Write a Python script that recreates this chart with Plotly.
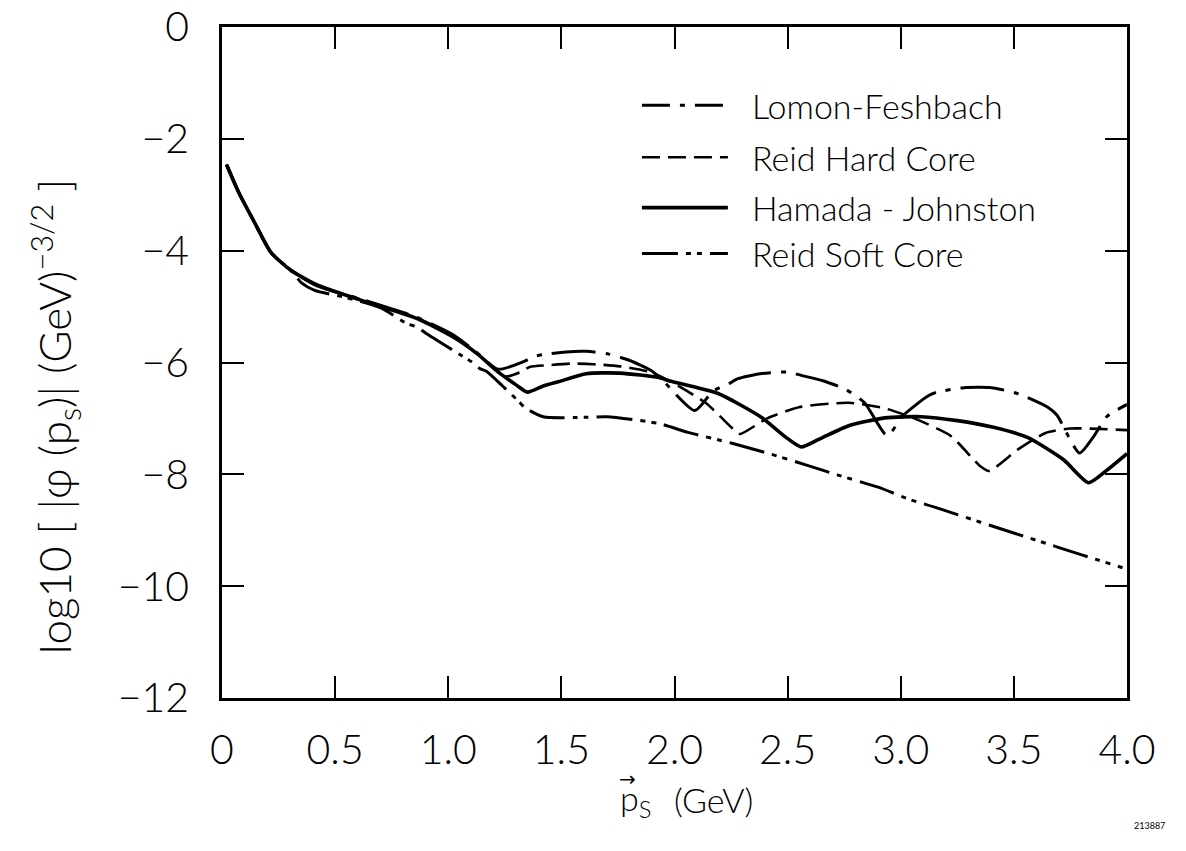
import plotly.graph_objects as go

# ---------------- data ----------------
common_x = [0.02, 0.074, 0.143, 0.216, 0.304]
common_y = [-2.46, -2.96, -3.49, -4.03, -4.35]

hj_x = [0.42, 0.61, 0.86, 1.02, 1.13, 1.23, 1.30, 1.35, 1.42, 1.49, 1.61, 1.76, 1.93, 1.98,
        2.19, 2.38, 2.49, 2.56, 2.64, 2.77, 2.93, 3.09, 3.25, 3.41, 3.56, 3.72, 3.83, 3.91, 4.00]
hj_y = [-4.61, -4.88, -5.21, -5.54, -5.85, -6.20, -6.40, -6.53, -6.42, -6.34, -6.20, -6.19, -6.27, -6.33,
        -6.55, -6.97, -7.33, -7.51, -7.37, -7.13, -6.99, -6.97, -7.04, -7.16, -7.34, -7.74, -8.15, -7.93, -7.63]

lf_x = [0.42, 0.61, 0.86, 1.02, 1.12, 1.22, 1.33, 1.38, 1.42, 1.52, 1.61, 1.71, 1.80, 1.90, 1.95,
        2.09, 2.17, 2.24, 2.28, 2.38, 2.50, 2.56, 2.66, 2.76, 2.84, 2.94, 3.01, 3.12, 3.16, 3.28,
        3.40, 3.52, 3.65, 3.69, 3.79, 3.85, 3.91, 4.00]
lf_y = [-4.63, -4.86, -5.19, -5.50, -5.80, -6.12, -5.99, -5.89, -5.86, -5.81, -5.80, -5.85, -5.96, -6.15, -6.33,
        -6.86, -6.51, -6.38, -6.29, -6.20, -6.17, -6.23, -6.33, -6.49, -6.72, -7.31, -6.95, -6.60, -6.53, -6.45,
        -6.45, -6.56, -6.80, -6.94, -7.62, -7.34, -6.97, -6.75]

rhc_x = [0.42, 0.61, 0.86, 1.02, 1.13, 1.25, 1.32, 1.36, 1.44, 1.54, 1.64, 1.76, 1.90, 2.03, 2.14,
         2.27, 2.29, 2.41, 2.55, 2.77, 2.93, 3.06, 3.22, 3.35, 3.39, 3.52, 3.64, 3.75, 4.00]
rhc_y = [-4.62, -4.87, -5.20, -5.52, -5.85, -6.25, -6.17, -6.08, -6.05, -6.02, -6.03, -6.07, -6.18, -6.45, -6.73,
         -7.23, -7.28, -7.00, -6.80, -6.72, -6.82, -7.00, -7.31, -7.85, -7.94, -7.55, -7.26, -7.18, -7.21]

rsc_x = [0.35, 0.41, 0.55, 0.70, 0.82, 0.86, 0.91, 1.06, 1.10, 1.14, 1.17, 1.24, 1.31, 1.34, 1.42,
         1.61, 1.70, 1.93, 2.06, 2.25, 2.41, 2.58, 2.72, 2.90, 3.04, 3.16, 3.40, 3.60, 3.80, 3.98]
rsc_y = [-4.57, -4.71, -4.84, -5.02, -5.31, -5.36, -5.50, -5.88, -5.98, -6.11, -6.16, -6.42, -6.69, -6.81, -6.97,
         -6.98, -6.97, -7.09, -7.25, -7.44, -7.62, -7.83, -8.01, -8.23, -8.45, -8.60, -8.92, -9.18, -9.44, -9.67]

series_names = ["Lomon-Feshbach", "Reid Hard Core", "Hamada - Johnston", "Reid Soft Core"]

x_tickvals = [0, 0.5, 1.0, 1.5, 2.0, 2.5, 3.0, 3.5, 4.0]
x_ticktext = ["0", "0.5", "1.0", "1.5", "2.0", "2.5", "3.0", "3.5", "4.0"]
y_tickvals = [0, -2, -4, -6, -8, -10, -12]
y_ticktext = ["0", "\u22122", "\u22124", "\u22126", "\u22128", "\u221210", "\u221212"]

# ---------------- styles ----------------
FONT = "Lato"
styles = {
    "Lomon-Feshbach": dict(width=3, dash="44px,10px,5px,10px"),
    "Reid Hard Core": dict(width=2.6, dash="18px,8px"),
    "Hamada - Johnston": dict(width=3.6, dash="solid"),
    "Reid Soft Core": dict(width=3, dash="36px,8px,5px,6px,5px,8px"),
}
data = {
    "Lomon-Feshbach": (lf_x, lf_y),
    "Reid Hard Core": (rhc_x, rhc_y),
    "Hamada - Johnston": (hj_x, hj_y),
    "Reid Soft Core": (rsc_x, rsc_y),
}

fig = go.Figure()
for name in series_names:
    xs, ys = data[name]
    st = styles[name]
    fig.add_trace(go.Scatter(
        x=common_x + xs, y=common_y + ys, mode="lines", name=name,
        line=dict(color="black", width=st["width"], dash=st["dash"], shape="spline", smoothing=0.6),
        showlegend=False, hoverinfo="skip"))

# manual legend (line samples + labels), placed in data coordinates
leg_x0, leg_x1, leg_tx = 1.856, 2.236, 2.334
leg_rows = [-1.40, -2.33, -3.23, -4.05]
for name, yy in zip(series_names, leg_rows):
    st = styles[name]
    fig.add_shape(type="line", xref="x", yref="y", x0=leg_x0, x1=leg_x1, y0=yy, y1=yy,
                  line=dict(color="black", width=st["width"],
                            dash=st["dash"] if name != "Lomon-Feshbach" else "28px,10px,5px,10px"))
    fig.add_annotation(x=leg_tx, y=yy, xref="x", yref="y", text=name, showarrow=False,
                       xanchor="left", yanchor="middle",
                       font=dict(family=FONT, size=34, color="black", weight=300))

axis_common = dict(showgrid=False, zeroline=False, showline=True, linecolor="black", linewidth=2.5,
                   mirror="ticks", ticks="inside", ticklen=22, tickwidth=2.2, tickcolor="black",
                   ticklabeloverflow="allow", automargin=False,
                   tickfont=dict(family=FONT, size=41, color="black", weight=300))

fig.update_xaxes(range=[0, 4], tickvals=x_tickvals, ticktext=x_ticktext, ticklabelstandoff=14,
                 **axis_common)
fig.update_yaxes(range=[-12, 0], tickvals=y_tickvals, ticktext=y_ticktext, ticklabelstandoff=22,
                 **axis_common)

# x-axis title: vector p with subscript S, then unit
title_font = dict(family=FONT, size=34, color="black", weight=300)
fig.add_annotation(text="p<sub>S</sub>", xref="paper", yref="paper", x=0.4376, y=-0.152,
                   showarrow=False, xanchor="left", yanchor="middle", font=title_font)
fig.add_annotation(text="(GeV)", xref="paper", yref="paper", x=0.4972, y=-0.152,
                   showarrow=False, xanchor="left", yanchor="middle", font=title_font)
fig.add_annotation(text="\u2192", xref="paper", yref="paper", x=0.4480, y=-0.121,
                   showarrow=False, xanchor="center", yanchor="middle",
                   font=dict(family="DejaVu Sans", size=20, color="black"))

# y-axis title as rotated annotation
fig.add_annotation(text="log10 [ |\u03c6 (p<sub>s</sub>)| (GeV)<sup>\u22123/2</sup> ]",
                   xref="paper", yref="paper", x=-0.1845, y=0.42, textangle=-90, showarrow=False,
                   xanchor="center", yanchor="middle",
                   font=dict(family=FONT, size=44, color="black", weight=300))

fig.add_annotation(text="213887", xref="paper", yref="paper", x=1.025, y=-0.19, showarrow=False,
                   xanchor="center", yanchor="middle", font=dict(family=FONT, size=9, color="black"))

fig.update_layout(width=1186, height=851, margin=dict(l=222, r=59, t=27, b=153),
                  paper_bgcolor="white", plot_bgcolor="white", showlegend=False)

fig.write_html("out.html")
